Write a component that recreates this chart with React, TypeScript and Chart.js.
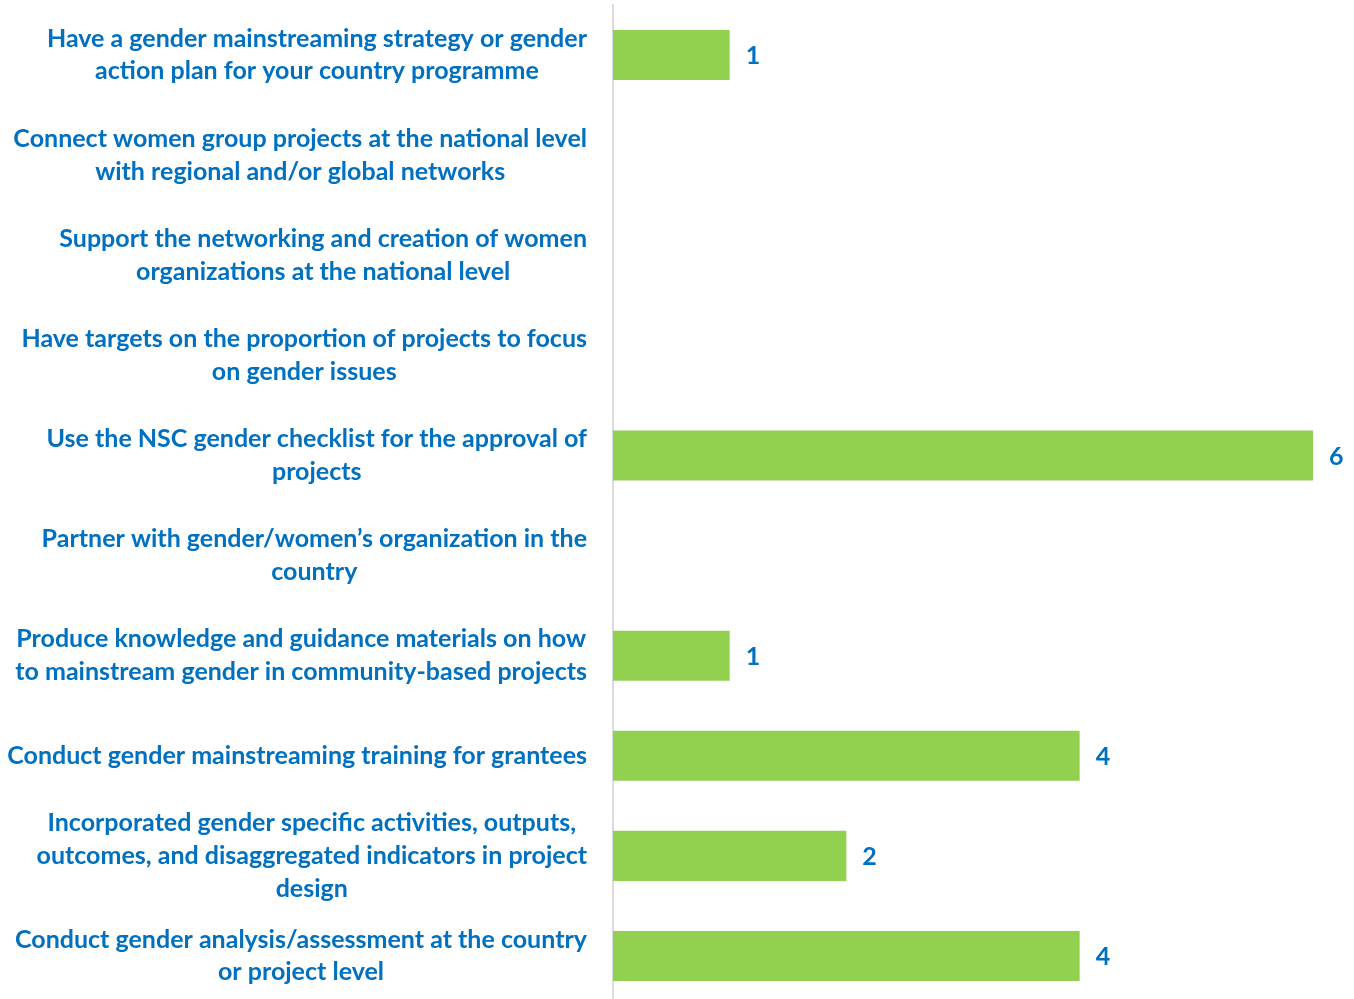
import React, { useEffect, useRef } from "react";
import { Chart, registerables } from "chart.js";

Chart.register(...registerables);

const categories: string[][] = [
  ["Have a gender mainstreaming strategy or gender", "action plan for your country programme"],
  ["Connect women group projects at the national level", "with regional and/or global networks"],
  ["Support the networking and creation of women", "organizations at the national level"],
  ["Have targets on the proportion of projects to focus", "on gender issues"],
  ["Use the NSC gender checklist for the approval of", "projects"],
  ["Partner with gender/women\u2019s organization in the", "country"],
  ["Produce knowledge and guidance materials on how", "to mainstream gender in community-based projects"],
  ["Conduct gender mainstreaming training for grantees"],
  ["Incorporated gender specific activities, outputs,", "outcomes, and disaggregated indicators in project", "design"],
  ["Conduct gender analysis/assessment at the country", "or project level"],
];

const values: number[] = [1, 0, 0, 0, 6, 0, 1, 4, 2, 4];

const BLUE = "#0070C0";
const GREEN = "#92D050";
const FONT_FAMILY = "Lato, 'Open Sans', sans-serif";
const REF_LINE = "Conduct gender mainstreaming training for grantees";
const REF_WIDTH = 580;

export default function App() {
  const canvasRef = useRef<HTMLCanvasElement | null>(null);

  useEffect(() => {
    const canvas = canvasRef.current;
    if (!canvas) return;

    const ctx0 = canvas.getContext("2d")!;
    ctx0.font = `bold 100px ${FONT_FAMILY}`;
    const w100 = ctx0.measureText(REF_LINE).width;
    const fontSize = (100 * REF_WIDTH) / w100;
    const font = `bold ${fontSize.toFixed(2)}px ${FONT_FAMILY}`;

    const labelPlugin = {
      id: "customLabels",
      afterDraw(chart: any) {
        const { ctx } = chart;
        const yScale = chart.scales.y;
        ctx.save();
        ctx.font = font;
        ctx.fillStyle = BLUE;
        ctx.textAlign = "center";
        ctx.textBaseline = "middle";
        const lineH = 32.6;
        const rightEdge = 587;
        categories.forEach((lines, i) => {
          const cy = yScale.getPixelForValue(i);
          const blockW = Math.max(...lines.map((l) => ctx.measureText(l).width));
          const cx = rightEdge - blockW / 2;
          const startY = cy - ((lines.length - 1) * lineH) / 2;
          lines.forEach((l, j) => {
            ctx.fillText(l, cx, startY + j * lineH);
          });
        });
        // value labels
        const meta = chart.getDatasetMeta(0);
        ctx.textAlign = "left";
        meta.data.forEach((bar: any, i: number) => {
          const v = values[i];
          if (!v) return;
          ctx.fillText(String(v), bar.x + 16, bar.y + 1);
        });
        ctx.restore();
      },
    };

    const chart = new Chart(canvas, {
      type: "bar",
      data: {
        labels: categories.map((c) => c.join(" ")),
        datasets: [
          {
            data: values,
            backgroundColor: GREEN,
            borderWidth: 0,
            barPercentage: 0.5,
            categoryPercentage: 1,
          },
        ],
      },
      options: {
        indexAxis: "y",
        animation: false,
        responsive: false,
        maintainAspectRatio: false,
        layout: { padding: { left: 612, right: 41, top: 5, bottom: 0 } },
        plugins: {
          legend: { display: false },
          tooltip: { enabled: false },
        },
        scales: {
          x: {
            display: false,
            min: 0,
            max: 6,
          },
          y: {
            display: true,
            ticks: { display: false },
            grid: { display: false, drawTicks: false },
            border: { display: true, color: "#D9DCE3", width: 2 },
            afterFit(scale: any) {
              scale.width = 1;
            },
          },
        },
      },
      plugins: [labelPlugin],
    });

    return () => chart.destroy();
  }, []);

  return (
    <div
      style={{
        position: "fixed",
        left: 0,
        top: 0,
        width: 1354,
        height: 999,
        overflow: "hidden",
        background: "#fff",
      }}
    >
      <canvas ref={canvasRef} width={1354} height={1006} style={{ display: "block" }} />
    </div>
  );
}
